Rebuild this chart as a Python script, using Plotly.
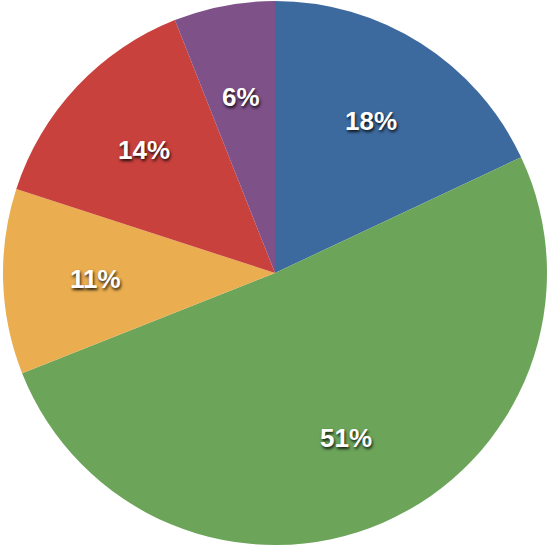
import math
import plotly.graph_objects as go

labels = ["Blue", "Green", "Orange", "Red", "Purple"]
values = [18, 51, 11, 14, 6]
colors = ["#3d6a9e", "#6ca55a", "#eaad4f", "#c8413d", "#7f5189"]

fig = go.Figure(go.Pie(
    labels=labels,
    values=values,
    sort=False,
    direction="clockwise",
    rotation=0,
    marker=dict(colors=colors, line=dict(width=0)),
    textinfo="none",
    hoverinfo="skip",
    showlegend=False,
))

# percentage labels placed along each slice bisector at ~2/3 of the radius
total = sum(values)
cum = 0
label_font = dict(family="Liberation Sans, Arial, sans-serif", size=26, color="white",
                  weight="bold", shadow="1px 2px 3px rgba(0,0,0,0.85)")
for v in values:
    mid = (cum + v / 2) / total * 2 * math.pi
    cum += v
    x = 0.5 + 0.66 * 0.5 * math.sin(mid)
    y = 0.5 + 0.66 * 0.5 * math.cos(mid)
    fig.add_annotation(x=x, y=y, xref="paper", yref="paper",
                       text=f"{round(v / total * 100)}%", showarrow=False,
                       font=label_font, xanchor="center", yanchor="middle")

fig.update_layout(
    width=550, height=550,
    margin=dict(l=3, r=3, t=1, b=5),
    paper_bgcolor="white",
    plot_bgcolor="white",
)
fig.write_html("out.html", config={"displayModeBar": False},
               post_script="document.body.style.margin='0';")
